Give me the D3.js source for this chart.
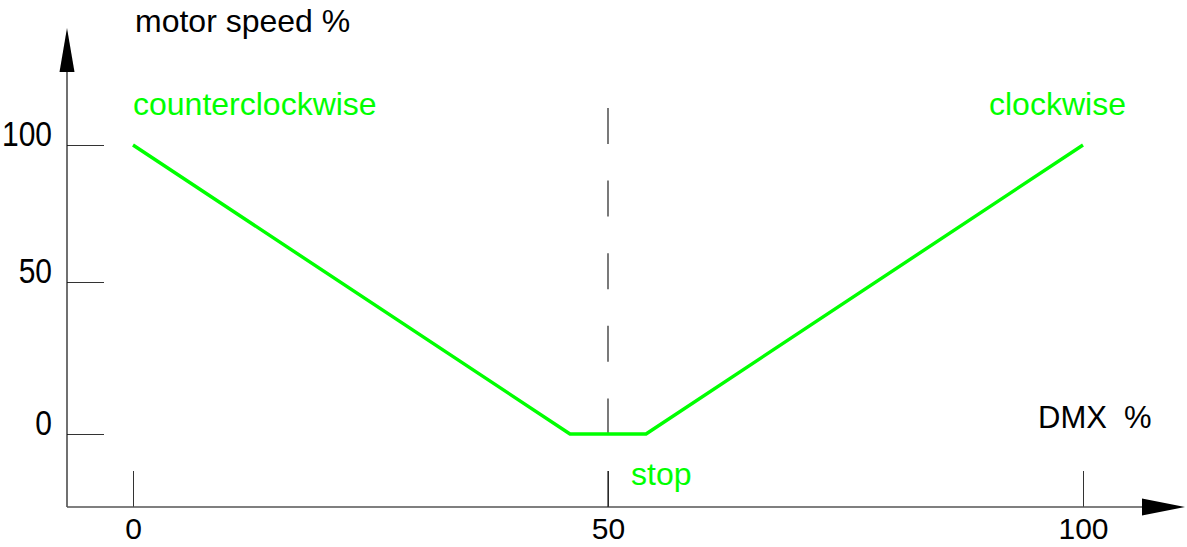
<!DOCTYPE html>
<html>
<head>
<meta charset="utf-8">
<script src="https://cdn.jsdelivr.net/npm/d3@7"></script>
<style>
  html, body { margin: 0; padding: 0; background: #fff; }
  text { font-family: "Liberation Sans", Arial, sans-serif; }
</style>
</head>
<body>
<div id="canvas"></div>
<script>
// motor speed against DMX value
var dmx = [0, 46, 54, 100]
var speed = [100, 0, 0, 100]
var xTicks = [0, 50, 100]
var yTicks = [0, 50, 100]

var green = '#00ff00'

var svg = d3.select('#canvas').append('svg')
  .attr('width', 1187)
  .attr('height', 547)

var x = d3.scaleLinear().domain([0, 100]).range([133, 1083])
// the drawing is not quite linear in y, so pin the three tick positions
var y = d3.scaleLinear().domain([0, 50, 100]).range([434, 282, 145])

var originX = 67, originY = 507

// y axis ticks + labels
var yAxis = svg.append('g')
  .attr('transform', 'translate(' + originX + ',0)')
  .call(d3.axisLeft(y).tickValues(yTicks).tickSizeInner(-37).tickSizeOuter(0).tickPadding(15))
yAxis.select('.domain').remove()
yAxis.selectAll('line').attr('stroke', '#333')
yAxis.selectAll('text')
  .attr('dy', 0)
  .attr('font-size', '30px')
  .attr('fill', '#000')
  .attr('transform', 'scale(1,1.15)') // labels in the drawing are a bit taller
  .style('font-family', '"Liberation Sans", Arial, sans-serif')

// x axis ticks + labels
var xAxis = svg.append('g')
  .attr('transform', 'translate(0,' + originY + ')')
  .call(d3.axisBottom(x).tickValues(xTicks).tickSizeInner(-36).tickSizeOuter(0).tickPadding(11))
xAxis.select('.domain').remove()
xAxis.selectAll('line').attr('stroke', '#333')
xAxis.selectAll('text')
  .attr('font-size', '30px')
  .attr('fill', '#000')
  .style('font-family', '"Liberation Sans", Arial, sans-serif')

// axis lines with arrow heads
svg.append('line')
  .attr('x1', originX).attr('y1', originY)
  .attr('x2', originX).attr('y2', 70)
  .attr('stroke', '#111').attr('stroke-width', 1.2)
svg.append('path')
  .attr('d', 'M' + originX + ',28 L' + (originX - 7.5) + ',72 L' + (originX + 7.5) + ',72 Z')
  .attr('fill', '#000')

svg.append('line')
  .attr('x1', originX).attr('y1', originY)
  .attr('x2', 1144).attr('y2', originY)
  .attr('stroke', '#555').attr('stroke-width', 1.5)
svg.append('path')
  .attr('d', 'M1185,' + originY + ' L1142,' + (originY - 8.5) + ' L1142,' + (originY + 8.5) + ' Z')
  .attr('fill', '#000')

// dashed centre line at DMX 50
svg.append('line')
  .attr('x1', x(50)).attr('y1', 108)
  .attr('x2', x(50)).attr('y2', originY)
  .attr('stroke', '#222').attr('stroke-width', 1.2)
  .attr('stroke-dasharray', '36 36.6')

// the speed curve
var line = d3.line()
  .x(function (d) { return x(d[0]) })
  .y(function (d) { return y(d[1]) })

svg.append('path')
  .datum(d3.zip(dmx, speed))
  .attr('d', line)
  .attr('fill', 'none')
  .attr('stroke', green)
  .attr('stroke-width', 3.4)
  .attr('stroke-linejoin', 'round')

// labels
var labels = [
  {text: 'motor speed %', x: 135, y: 32, size: 32, fill: '#000'},
  {text: 'counterclockwise', x: 133, y: 115, size: 32, fill: green},
  {text: 'clockwise', x: 989, y: 115, size: 32, fill: green},
  {text: 'DMX\u00a0\u00a0%', x: 1038, y: 428, size: 31, fill: '#000'},
  {text: 'stop', x: 631, y: 485, size: 32, fill: green}
]
svg.selectAll('text.label')
  .data(labels)
  .enter().append('text')
  .attr('class', 'label')
  .attr('x', function (d) { return d.x })
  .attr('y', function (d) { return d.y })
  .attr('font-size', function (d) { return d.size + 'px' })
  .attr('fill', function (d) { return d.fill })
  .text(function (d) { return d.text })
</script>
</body>
</html>
